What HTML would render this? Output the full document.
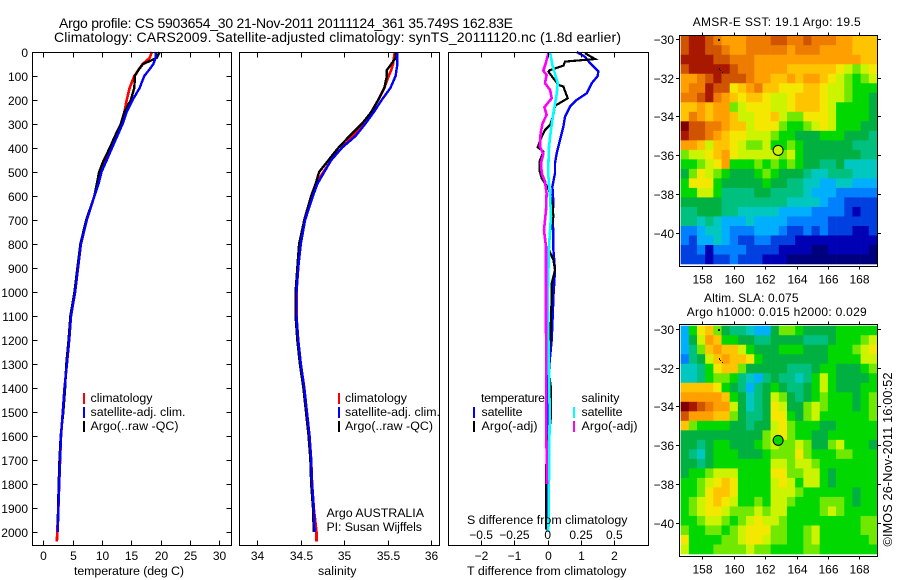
<!DOCTYPE html>
<html lang="en">
<head>
<meta charset="utf-8">
<title>Argo profile</title>
<style>
html,body{margin:0;padding:0;background:#fff;width:900px;height:580px;overflow:hidden}
svg{display:block}
text{font-family:"Liberation Sans",sans-serif;font-size:12px;fill:#000}
.title{font-size:14px}
.lab{font-size:12.4px}
</style>
</head>
<body>
<svg id="chart" xmlns="http://www.w3.org/2000/svg" width="900" height="580" viewBox="0 0 900 580">
  <rect x="0" y="0" width="900" height="580" fill="#fff"/>
  <g id="marks"></g>
  <text class="title" x="59" y="28" textLength="454">Argo profile: CS 5903654_30 21-Nov-2011 20111124_361 35.749S 162.83E</text>
  <text class="title" x="54" y="42" textLength="567">Climatology: CARS2009. Satellite-adjusted climatology: synTS_20111120.nc (1.8d earlier)</text>

  <text class="lab" x="74" y="575" textLength="110">temperature (deg C)</text>
  <text class="lab" x="318" y="575" textLength="38.5">salinity</text>
  <text class="lab" x="467" y="575" textLength="159.5">T difference from climatology</text>
  <text class="lab" x="467" y="524" textLength="160.5">S difference from climatology</text>

  <g>
    <rect x="83" y="393" width="2" height="11" fill="#f00"/>
    <text class="lab" x="90.5" y="402" textLength="62">climatology</text>
    <rect x="83" y="407" width="2" height="11" fill="#00f"/>
    <text class="lab" x="90.5" y="416" textLength="95">satellite-adj. clim.</text>
    <rect x="83" y="421" width="2" height="11" fill="#000"/>
    <text class="lab" x="90.5" y="430" textLength="88">Argo(..raw -QC)</text>
  </g>
  <g>
    <rect x="338" y="393" width="2" height="11" fill="#f00"/>
    <text class="lab" x="345" y="402" textLength="62">climatology</text>
    <rect x="338" y="407" width="2" height="11" fill="#00f"/>
    <text class="lab" x="345" y="416" textLength="95">satellite-adj. clim.</text>
    <rect x="338" y="421" width="2" height="11" fill="#000"/>
    <text class="lab" x="345" y="430" textLength="88">Argo(..raw -QC)</text>
  </g>
  <g>
    <text class="lab" x="481" y="402" textLength="64">temperature</text>
    <rect x="473" y="407" width="2" height="11" fill="#00f"/>
    <text class="lab" x="481.5" y="416" textLength="41">satellite</text>
    <rect x="473" y="421" width="2" height="11" fill="#000"/>
    <text class="lab" x="481.5" y="430" textLength="56">Argo(-adj)</text>
    <text class="lab" x="581.5" y="402" textLength="38">salinity</text>
    <rect x="573" y="407" width="2" height="11" fill="#0ff"/>
    <text class="lab" x="581.5" y="416" textLength="41">satellite</text>
    <rect x="573" y="421" width="2" height="11" fill="#f0f"/>
    <text class="lab" x="581.5" y="430" textLength="56">Argo(-adj)</text>
  </g>
  <text class="lab" x="326.5" y="517" textLength="97.5">Argo AUSTRALIA</text>
  <text class="lab" x="326.5" y="531" textLength="95.5">PI: Susan Wijffels</text>

  <text x="692.7" y="26" textLength="168">AMSR-E SST: 19.1 Argo: 19.5</text>
  <text x="704" y="302" textLength="94.5">Altim. SLA: 0.075</text>
  <text x="686.7" y="316" textLength="180">Argo h1000: 0.015 h2000: 0.029</text>
  <text style="font-size:12.6px" transform="translate(892,546.5) rotate(-90)" textLength="174">©IMOS 26-Nov-2011 16:00:52</text>
</svg>
<script>
// ---- profile data ----
const profileDepths = [0,25,50,75,100,150,200,250,300,350,400,450,500,550,600,700,800,900,1000,1100,1200,1300,1400,1500,1600,1700,1800,1900,2000];
const tempClim = [18.5,18.1,16.9,16.2,15.5,14.7,14.2,13.8,13.2,12.5,11.6,10.7,9.8,9.2,8.7,7.4,6.4,5.9,5.4,4.7,4.4,4.0,3.6,3.3,3.0,2.85,2.7,2.55,2.35];
const tempSat = [19.2,19.1,18.75,18,17.2,16.4,15.2,14.2,13.5,12.6,11.7,10.8,9.9,9.4,8.7,7.4,6.4,5.9,5.4,4.7,4.4,4.0,3.6,3.3,3.0,2.85,2.7,2.55,2.45];
const tempArgo = [19.8,19.3,17,16.2,15.6,15.5,14.9,13.8,13.2,12.2,11.3,10.3,9.5,9.1,8.7,7.3,6.3,5.8,5.3,4.6,4.3,3.9,3.7,3.4,2.95,2.75,2.6,2.5,2.4];
const salClim = [35.58,35.57,35.56,35.54,35.51,35.46,35.39,35.31,35.22,35.10,34.97,34.85,34.76,34.67,34.62,34.54,34.49,34.47,34.45,34.45,34.47,34.5,34.54,34.57,34.6,34.62,34.63,34.65,34.68];
const salSat = [35.61,35.61,35.61,35.6,35.59,35.53,35.43,35.34,35.24,35.13,34.97,34.85,34.77,34.69,34.64,34.55,34.5,34.47,34.45,34.45,34.47,34.5,34.54,34.57,34.6,34.62,34.63,34.65,34.66];
const salArgo = [35.59,35.59,35.54,35.49,35.49,35.46,35.39,35.31,35.20,35.06,34.93,34.82,34.71,34.67,34.62,34.54,34.48,34.46,34.44,34.44,34.46,34.49,34.53,34.56,34.59,34.61,34.62,34.64,34.65];

const tDiffSatDepths = [0,20,35,60,80,100,130,172,200,228,270,310,367,422,464,505,561,630,686,755,825,908,1020,1100,1200,1300,1400,1600,1800,2000];
const tDiffSat = [.87,1.12,1.2,1.37,1.52,1.5,1.32,1.17,.87,.67,.52,.47,.37,.27,.22,.22,.14,.17,.14,.17,.17,.22,.17,.15,.12,.05,.02,.02,0,0];
const tDiffArgoDepths = [5,29,40,57,75,82,137,144,193,224,262,304,325,353,397,415,457,492,526,568,630,686,755,825,867,908,964,1020,1100,1200,1300,1400,1520,1600,1735,1800,1990];
const tDiffArgo = [1.12,1.42,.52,.47,.07,.02,.32,.47,.6,.22,.17,.07,-.08,-.18,-.3,-.13,-.25,-.25,-.18,.02,.14,.17,.07,.04,.17,.22,.12,.12,.1,.08,0,.1,.1,.03,-.05,-.05,-.05];
const sDiffSatDepths = [0,55,130,172,255,325,394,464,520,603,686,811,908,1020,1500,2000];
const sDiffSat = [.018,.035,.075,.068,.043,.025,.01,.005,.005,.018,.025,.01,.005,0,.015,.005];
const sDiffArgoDepths = [5,47,78,96,130,158,193,230,262,297,339,394,425,464,505,540,589,658,742,811,1020,1300,1500,1800];
const sDiffArgo = [.005,-.015,-.033,-.008,-.02,.018,.03,-.025,-.008,-.038,-.053,-.058,-.033,-.05,-.045,-.02,-.008,-.013,-.028,-.013,-.013,-.012,-.012,-.005];

// ---- tick labels ----
const depthTicks = [0,100,200,300,400,500,600,700,800,900,1000,1100,1200,1300,1400,1500,1600,1700,1800,1900,2000];
const tempTicks = [0,5,10,15,20,25,30];
const salTicks = [34,34.5,35,35.5,36];
const tDiffTicks = [-2,-1,0,1,2];
const sDiffTicks = [-0.5,-0.25,0,0.25,0.5];
const lonTicks = [158,160,162,164,166,168];
const latTicks = [-30,-32,-34,-36,-38,-40];

// ---- map cells: colour level per half-degree cell, 0 (cold/low) to h (warm/high) ----
const sstRows = [
"fggfedddeeeffeefeeeddccc",
"fggffeddeeeeedeeeddddccc",
"ggggffeeedddddddddddddcc",
"fgggggfeeddddccccccba9ab",
"ddefgfffeddccdcddcba989a",
"deegffbcdeccbbbccbaa9888",
"eefgedcbccbaabcccbaa9887",
"ccdcdd9abbbaabcccba88887",
"cedcddcaabbca99bbba88887",
"hffeedccabbb9889aba88877",
"gffedcbbaaa9887778887776",
"ddcaccba99a8898777777666",
"9aabcdbaaaaa9a8777777766",
"889abd888989898776675555",
"79ba98777898777655666555",
"8bbb87777787766554455444",
"88aa86666776666544433333",
"777776666666655554332222",
"667776655555444433332122",
"665654445444433333222222",
"334554333444322323222112",
"324454322332221111111111",
"223133332222111100111110",
"222122322211100000000000"];
const slaRows = [
"48bc97665447998777788888",
"47adc887766777766678889a",
"469cdcca87778887778889ab",
"367acdccb8777777778888aa",
"5568bcc97777766678877789",
"55689986546766568a877778",
"ccccb876467876678a877788",
"dddddc87567a976789888789",
"hgfedda7567ba779a9888789",
"fdddcc97667bb879a8888889",
"c9888877677ab98887788888",
"77777777779ab98877888888",
"77678877789a99a9779a8887",
"76578887778999b988899888",
"77678888888aa9aa98888888",
"7889aaa8888bb99aa8788888",
"889abcb8888aba8aa8788888",
"889bccb8888aaa9888888788",
"89abcba8898aa98889998788",
"89abba999a9aa88889a98888",
"889aa989abaa988888888899",
"9889989abbb99889a8888899",
"b888899abba99889a8888889",
"a8889999a998888998888888"];
const levelColors = ["#00007f","#0000b4","#0040e0","#0080ff","#00b0ff","#00c8c0","#00c080","#00b040","#00d800","#70e800","#ccf400","#f4e800","#ffc400","#ffa000","#ee7c00","#d05400","#a81800","#800000"];
const sstFloat = {lon:162.83, lat:-35.749, level:10};
const slaFloat = {lon:162.83, lat:-35.749, level:8};

// ---- axis functions ----
const depthY = d => 52 + d * 0.24;
const tempX = t => 43.4 + t * 5.867;
const salX = s => 257.3 + (s - 34) * 87;
const tDiffX = t => 547.7 + t * 33.3;
const sDiffX = s => 547.7 + s * 133.2;
const lonX = l => 702.3 + (l - 158) * 15.7;
const latY = (l, top) => top + (-30 - l) * 19.37;

const SVGNS = "http://www.w3.org/2000/svg";
const root = document.getElementById("marks");
function make(tag, attrs, parent) {
  const el = document.createElementNS(SVGNS, tag);
  for (const k in attrs) el.setAttribute(k, attrs[k]);
  (parent || root).appendChild(el);
  return el;
}
function tickLine(x1, y1, x2, y2, parent) {
  const el = make("line", {x1, y1, x2, y2, stroke:"#000", "stroke-width":1, "shape-rendering":"crispEdges"}, parent);
  
  
}
function tickText(x, y, anchor, str, parent) {
  const el = make("text", {x, y, "text-anchor":anchor}, parent);
  el.textContent = str;
  
  
}
function frame(x, y, w, h, name) {
  const el = make("rect", {x, y, width:w, height:h, fill:"none", stroke:"#000", "stroke-width":1, "shape-rendering":"crispEdges"});
  
  
}
function profile(values, depths, xFn, color, width, name) {
  const pts = values.map((v, i) => xFn(v).toFixed(1) + "," + depthY(depths[i]).toFixed(1)).join(" ");
  const el = make("polyline", {points:pts, fill:"none", stroke:color, "stroke-width":width, "shape-rendering":"crispEdges"});
  
  
}
const fmtMinus = v => String(v).replace("-", "\u2212");

// ---- profile panels ----
const PT = 52.5, PB = 545.5;
// temperature panel
profile(tempClim.concat([2.3]), profileDepths.concat([2040]), tempX, "#f00", 2.6, "temperature-climatology-line");
profile(tempArgo, profileDepths, tempX, "#000", 2.4, "temperature-argo-line");
profile(tempSat, profileDepths, tempX, "#00f", 2.4, "temperature-satellite-line");
// salinity panel
profile(salClim.concat([34.68]), profileDepths.concat([2040]), salX, "#f00", 2.6, "salinity-climatology-line");
profile(salArgo, profileDepths, salX, "#000", 2.4, "salinity-argo-line");
profile(salSat, profileDepths, salX, "#00f", 2.4, "salinity-satellite-line");
// difference panel
profile(tDiffSat, tDiffSatDepths, tDiffX, "#00f", 2.4, "t-difference-satellite-line");
profile(tDiffArgo, tDiffArgoDepths, tDiffX, "#000", 2.2, "t-difference-argo-line");
profile(sDiffSat, sDiffSatDepths, sDiffX, "#0ff", 2.6, "s-difference-satellite-line");
profile(sDiffArgo, sDiffArgoDepths, sDiffX, "#f0f", 2.6, "s-difference-argo-line");

frame(32.5, PT, 199, PB - PT, "temperature-panel-frame");
frame(239.5, PT, 200, PB - PT, "salinity-panel-frame");
frame(448.5, PT, 200, PB - PT, "difference-panel-frame");

depthTicks.forEach(d => {
  const y = Math.round(depthY(d)) + 0.5;
  tickLine(32.5, y, 37.5, y);
  tickLine(226.5, y, 231.5, y);
  tickText(28, y + 4.5, "end", String(d));
});
tempTicks.forEach(t => {
  const x = Math.round(tempX(t)) + 0.5;
  tickLine(x, PT, x, PT + 5);
  tickLine(x, PB, x, PB - 5);
  tickText(x, 560, "middle", String(t));
});
salTicks.forEach(s => {
  const x = Math.round(salX(s)) + 0.5;
  tickLine(x, PT, x, PT + 5);
  tickLine(x, PB, x, PB - 5);
  tickText(x, 560, "middle", String(s));
});
tDiffTicks.forEach(t => {
  const x = Math.round(tDiffX(t)) + 0.5;
  tickLine(x, PT, x, PT + 5);
  tickLine(x, PB, x, PB - 5);
  tickText(x, 560, "middle", fmtMinus(t));
});
sDiffTicks.forEach(s => {
  tickText(sDiffX(s), 539, "middle", fmtMinus(s));
});

// ---- maps ----
function drawMap(rows, top, boxTop, boxBottom, float, dots, name) {
  const g = make("g", {});
  
  
  const dLon = 0.5211, dLat = 0.4911, lon0 = 156.62;
  rows.forEach((row, j) => {
    for (let i = 0; i < row.length; i++) {
      const x0 = lonX(lon0 + i * dLon), x1 = lonX(lon0 + (i + 1) * dLon);
      const y0 = latY(-29.83 - j * dLat, top), y1 = latY(-29.83 - (j + 1) * dLat, top);
      const cell = make("rect", {x:x0.toFixed(2), y:y0.toFixed(2), width:(x1 - x0 + 0.3).toFixed(2), height:(y1 - y0 + 0.3).toFixed(2), fill:levelColors[parseInt(row[i], 18)]}, g);
      
      
    }
  });
  dots.forEach(d => {
    const dot = make("rect", {x:d[0], y:d[1] + top, width:d[2], height:d[3], fill:"#000"}, g);
    
    
  });
  const c = make("circle", {cx:lonX(float.lon), cy:latY(float.lat, top), r:5, fill:levelColors[float.level], stroke:"#000", "stroke-width":1}, g);
  
  
  frame(679.5, boxTop, 198, boxBottom - boxTop, name + "-frame");
  lonTicks.forEach(l => {
    const x = Math.round(lonX(l)) + 0.5;
    tickLine(x, boxTop, x, boxTop - 3);
    tickLine(x, boxBottom, x, boxBottom + 3);
    tickText(x, boxBottom + 17, "middle", String(l));
  });
  latTicks.forEach(l => {
    const y = Math.round(latY(l, top)) + 0.5;
    tickLine(679.5, y, 676, y);
    tickLine(877.5, y, 881, y);
    tickText(674, y + 4.5, "end", fmtMinus(l));
  });
}
const speckPixels = [[718,0,2,2],[719,29,1,2],[720,31,1,1],[722,33,1,1]];
drawMap(sstRows, 39, 35.5, 266.5, sstFloat, speckPixels, "sst-map");
drawMap(slaRows, 329, 324.5, 556.5, slaFloat, speckPixels, "sla-map");
</script>
</body>
</html>
